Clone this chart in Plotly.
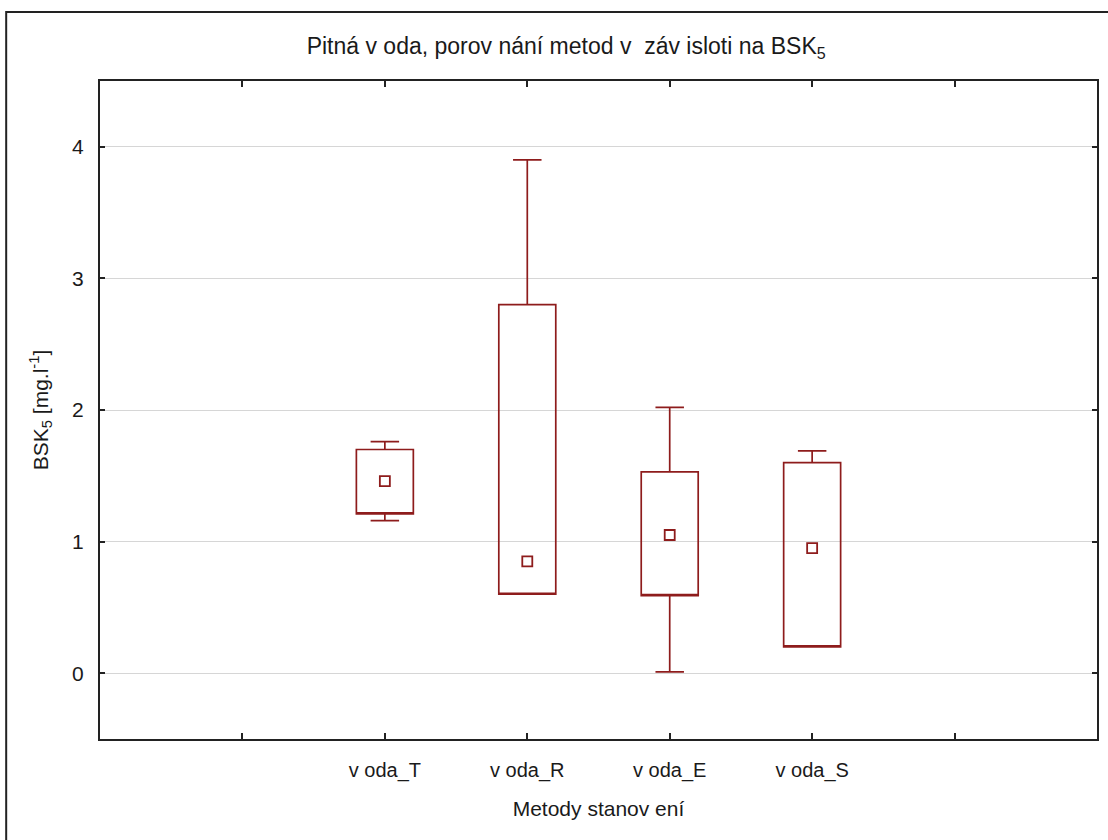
import plotly.graph_objects as go

categories = ["v oda_T", "v oda_R", "v oda_E", "v oda_S"]
box_low = [1.21, 0.60, 0.59, 0.20]
box_high = [1.70, 2.80, 1.53, 1.60]
whisk_low = [1.16, 0.60, 0.01, 0.20]
whisk_high = [1.76, 3.90, 2.02, 1.69]
center = [1.46, 0.85, 1.05, 0.95]

color = "#8e1c1c"
positions = [i + 2 for i in range(len(categories))]

fig = go.Figure()
for pos, lo, hi, wl, wh in zip(positions, box_low, box_high, whisk_low, whisk_high):
    fig.add_trace(go.Box(
        x=[pos], q1=[lo], median=[lo], q3=[hi], lowerfence=[wl], upperfence=[wh],
        width=0.4, whiskerwidth=0.5, fillcolor="rgba(0,0,0,0)",
        line=dict(color=color, width=1.7), boxpoints=False, showlegend=False,
        hoverinfo="skip"))
fig.add_trace(go.Scatter(
    x=positions, y=center, mode="markers",
    marker=dict(symbol="square-open", size=10, color=color, line=dict(width=1.8, color=color)),
    showlegend=False))

fam = "Liberation Sans, Arial"
txt = "#1a1a1a"
fig.update_layout(
    width=1108, height=840,
    paper_bgcolor="white", plot_bgcolor="white",
    margin=dict(l=100, r=9, t=81, b=101),
    title=dict(text="Pitná v oda, porov nání metod v  záv isloti na BSK<sub>5</sub>",
               x=0.511, xanchor="center", y=1 - 46 / 840, yanchor="middle",
               font=dict(family=fam, size=23, color=txt)),
    xaxis=dict(range=[0, 7], tickvals=positions, ticktext=categories,
               ticks="inside", ticklen=6, tickcolor="#222", tickwidth=1.5,
               minor=dict(tickvals=[1, 6], ticks="inside", ticklen=6,
                          tickcolor="#222", tickwidth=1.5, showgrid=False),
               ticklabelstandoff=12,
               showgrid=False, zeroline=False,
               showline=True, linecolor="#222", linewidth=2, mirror="ticks",
               tickfont=dict(family=fam, size=20, color=txt),
               title=dict(text="Metody stanov ení", standoff=20,
                          font=dict(family=fam, size=21, color=txt))),
    yaxis=dict(range=[-0.5, 4.5], tickvals=[0, 1, 2, 3, 4],
               ticks="inside", ticklen=5, tickcolor="#222", tickwidth=1.5,
               ticklabelstandoff=10,
               showgrid=True, gridcolor="#d6d6d6", gridwidth=1.2, zeroline=False,
               showline=True, linecolor="#222", linewidth=2, mirror="ticks",
               tickfont=dict(family=fam, size=21, color=txt),
               title=dict(text="BSK<sub>5</sub> [mg.l<sup>-1</sup>]", standoff=18,
                          font=dict(family=fam, size=21, color=txt))),
    shapes=[dict(type="rect", xref="paper", yref="paper",
                 x0=(6 - 100) / 999, x1=1.05, y0=-0.3, y1=(739 - 12) / 658,
                 line=dict(color="#222", width=2), fillcolor="rgba(0,0,0,0)", layer="below")],
)

fig.write_html("out.html", config={"displayModeBar": False},
               post_script="document.body.style.margin='0';document.body.style.overflow='hidden';")
